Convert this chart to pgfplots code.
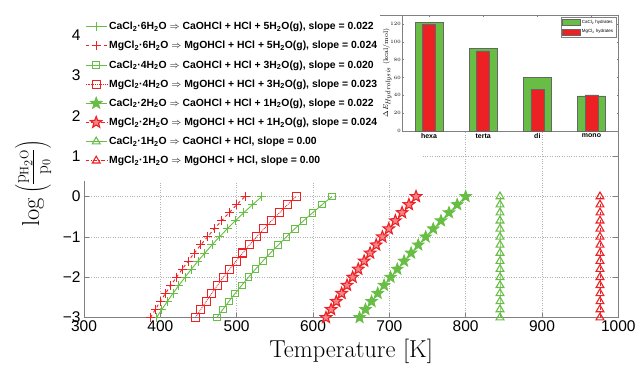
\documentclass[border=0pt]{standalone}
\usepackage{fontspec}
\setsansfont{Liberation Sans}
\usepackage{pgfplots}
\usepackage{pgfplotstable}
\pgfplotsset{compat=1.18}
\usetikzlibrary{plotmarks}
\definecolor{cgreen}{RGB}{104,189,69}
\definecolor{cred}{RGB}{237,32,36}
\definecolor{axgray}{RGB}{128,128,128}

\pgfdeclareplotmark{pstar}{%
 \pgfpathmoveto{\pgfpointpolar{90}{\pgfplotmarksize}}%
 \pgfpathlineto{\pgfpointpolar{126}{0.42\pgfplotmarksize}}%
 \pgfpathlineto{\pgfpointpolar{162}{\pgfplotmarksize}}%
 \pgfpathlineto{\pgfpointpolar{198}{0.42\pgfplotmarksize}}%
 \pgfpathlineto{\pgfpointpolar{234}{\pgfplotmarksize}}%
 \pgfpathlineto{\pgfpointpolar{270}{0.42\pgfplotmarksize}}%
 \pgfpathlineto{\pgfpointpolar{306}{\pgfplotmarksize}}%
 \pgfpathlineto{\pgfpointpolar{342}{0.42\pgfplotmarksize}}%
 \pgfpathlineto{\pgfpointpolar{18}{\pgfplotmarksize}}%
 \pgfpathlineto{\pgfpointpolar{54}{0.42\pgfplotmarksize}}%
 \pgfpathclose
 \pgfusepathqfillstroke}

% columns: y, CaCl2.6H2O, MgCl2.6H2O, CaCl2.4H2O, MgCl2.4H2O, CaCl2.2H2O, MgCl2.2H2O, CaCl2.1H2O, MgCl2.1H2O
\pgfplotstableread{
y    ca6   mg6   ca4   mg4   ca2   mg2   ca1  mg1
-3.0 395.0 387.0 474.0 446.0 661.0 617.0 845 976
-2.8 401.9 393.4 481.8 452.9 668.7 623.7 845 976
-2.6 409.1 399.9 489.8 460.0 676.7 630.5 845 976
-2.4 416.6 406.7 498.1 467.3 684.8 637.5 845 976
-2.2 424.3 413.8 506.6 474.9 693.1 644.6 845 976
-2.0 432.3 421.1 515.5 482.7 701.6 651.9 845 976
-1.8 440.6 428.6 524.7 490.8 710.4 659.3 845 976
-1.6 449.3 436.4 534.2 499.2 719.3 667.0 845 976
-1.4 458.3 444.5 544.1 507.9 728.5 674.8 845 976
-1.2 467.6 452.9 554.4 516.8 737.9 682.8 845 976
-1.0 477.4 461.7 565.0 526.1 747.6 690.9 845 976
-0.8 487.6 470.8 576.1 535.7 757.5 699.3 845 976
-0.6 498.2 480.2 587.6 545.7 767.7 707.9 845 976
-0.4 509.3 490.1 599.5 556.1 778.2 716.7 845 976
-0.2 520.9 500.3 612.0 566.8 788.9 725.7 845 976
 0.0 533.0 511.0 625.0 578.0 800.0 735.0 845 976
}\hyd

\begin{document}
\begin{tikzpicture}
\begin{axis}[name=main, at={(0,0)}, anchor=south west,
  scale only axis, width=534pt, height=302.4pt,
  xmin=300, xmax=1000, ymin=-3, ymax=4.5,
  xtick={300,400,...,1000}, xticklabels={300,400,500,600,700,800,900,1000},
  ytick={-3,-2,...,4}, yticklabels={−3,−2,−1,0,1,2,3,4},
  tick label style={font=\sffamily\fontsize{15.5}{18}\selectfont, text=black},
  tick align=inside, major tick length=5pt,
  axis line style={axgray}, every tick/.style={axgray},
  grid=major, major grid style={dotted, line width=0.5pt, black!30},
  xlabel={Temperature [K]},
  xlabel style={font=\fontsize{24.5}{28}\selectfont, at={(rel axis cs:0.5,0)}, anchor=center, yshift=-34pt},
  ylabel={$\log\left(\frac{\mathrm{p_{H_2O}}}{\mathrm{p_0}}\right)$},
  ylabel style={font=\fontsize{24.5}{28}\selectfont, at={(rel axis cs:-0.0955,0.444)}, anchor=center},
  legend style={at={(rel axis cs:0,1)}, anchor=north west, draw=none, fill=white,
    font=\sffamily\bfseries\fontsize{10.4}{12}\selectfont, row sep=6.1pt,
    inner xsep=1pt, inner ysep=5pt},
  legend image code/.code={\draw[mark repeat=2,mark phase=2,#1] plot coordinates {(0pt,0pt)(10.5pt,0pt)(21pt,0pt)};},
  legend cell align=left,
]
\fill[white] (axis cs:300.6,0.39) rectangle (axis cs:741,4.48);
\addplot[cgreen, line width=0.9pt, mark=+, mark size=4.5pt, mark options={draw=cgreen}] table[x=ca6,y=y]{\hyd};
\addlegendentry{CaCl\textsubscript{2}·6H\textsubscript{2}O $\Rightarrow$ CaOHCl + HCl + 5H\textsubscript{2}O(g), slope = 0.022}
\addplot[cred, line width=0.9pt, dashed, mark=+, mark size=4.5pt, mark options={solid, draw=cred}] table[x=mg6,y=y]{\hyd};
\addlegendentry{MgCl\textsubscript{2}·6H\textsubscript{2}O $\Rightarrow$ MgOHCl + HCl + 5H\textsubscript{2}O(g), slope = 0.024}
\addplot[cgreen, line width=0.9pt, mark=square, mark size=3.3pt, mark options={draw=cgreen}] table[x=ca4,y=y]{\hyd};
\addlegendentry{CaCl\textsubscript{2}·4H\textsubscript{2}O $\Rightarrow$ CaOHCl + HCl + 3H\textsubscript{2}O(g), slope = 0.020}
\addplot[cred, line width=0.9pt, densely dotted, mark=square, mark size=4pt, mark options={solid, draw=cred, line width=1.1pt}] table[x=mg4,y=y]{\hyd};
\addlegendentry{MgCl\textsubscript{2}·4H\textsubscript{2}O $\Rightarrow$ MgOHCl + HCl + 3H\textsubscript{2}O(g), slope = 0.023}
\addplot[cgreen, line width=0.9pt, mark=pstar, mark size=6pt, mark options={draw=cgreen, fill=cgreen}] table[x=ca2,y=y]{\hyd};
\addlegendentry{CaCl\textsubscript{2}·2H\textsubscript{2}O $\Rightarrow$ CaOHCl + HCl + 1H\textsubscript{2}O(g), slope = 0.022}
\addplot[cred, line width=0.9pt, dashdotted, mark=pstar, mark size=6pt, mark options={solid, draw=cred, fill=cred!55!white, line width=1.1pt}] table[x=mg2,y=y]{\hyd};
\addlegendentry{MgCl\textsubscript{2}·2H\textsubscript{2}O $\Rightarrow$ MgOHCl + HCl + 1H\textsubscript{2}O(g), slope = 0.024}
\addplot[cgreen, line width=0.9pt, mark=triangle, mark size=4.5pt, mark options={draw=cgreen, line width=1.1pt}] table[x=ca1,y=y]{\hyd};
\addlegendentry{CaCl\textsubscript{2}·1H\textsubscript{2}O $\Rightarrow$ CaOHCl + HCl, slope = 0.00}
\addplot[cred, line width=0.9pt, dashdotted, mark=triangle, mark size=4.5pt, mark options={solid, draw=cred, line width=1.1pt}] table[x=mg1,y=y]{\hyd};
\addlegendentry{MgCl\textsubscript{2}·1H\textsubscript{2}O $\Rightarrow$ MgOHCl + HCl, slope = 0.00}
\end{axis}

\begin{axis}[at={(317.7pt,186.4pt)}, anchor=south west,
  scale only axis, width=216.6pt, height=116pt,
  xmin=0.5, xmax=4.5, ymin=0, ymax=130,
  xtick={1,2,3,4}, xticklabels={hexa,terta,di,mono},
  ytick={0,20,...,120},
  axis background/.style={fill=white},
  tick align=inside, major tick length=2pt,
  axis line style={axgray}, every tick/.style={axgray},
  x tick label style={font=\sffamily\bfseries\fontsize{7}{8}\selectfont, text=black, inner sep=1pt, yshift=-1.5pt},
  y tick label style={font=\sffamily\fontsize{4.2}{5}\selectfont, text=black, inner sep=1pt},
  ylabel={$\Delta E_{\textstyle\mathit{Hydrolysis}}$\ (kcal/mol)},
  ylabel style={font=\fontsize{6.9}{8}\selectfont, at={(rel axis cs:-0.067,0.5)}, anchor=center},
  legend style={at={(rel axis cs:0.99,0.985)}, anchor=north east, draw=axgray,
    font=\sffamily\fontsize{4.5}{5}\selectfont, inner sep=1pt, row sep=1pt},
  legend cell align=left,
]
\addplot[ybar, bar width=0.51, bar shift=0pt, fill=cgreen, draw=gray!80!black, area legend] coordinates {(1,121.9)(2,92.7)(3,59.8)(4,39.3)};
\addlegendentry{CaCl\textsubscript{2} hydrates}
\addplot[ybar, bar width=0.24, bar shift=0pt, fill=cred, draw=gray!80!black, area legend] coordinates {(1,119.6)(2,89.7)(3,46.7)(4,40.4)};
\addlegendentry{MgCl\textsubscript{2} hydrates}
\end{axis}

\path (main.south west) +(-84pt,-49.6pt);
\path (main.north east) +(21.7pt,15pt);
\end{tikzpicture}
\end{document}
